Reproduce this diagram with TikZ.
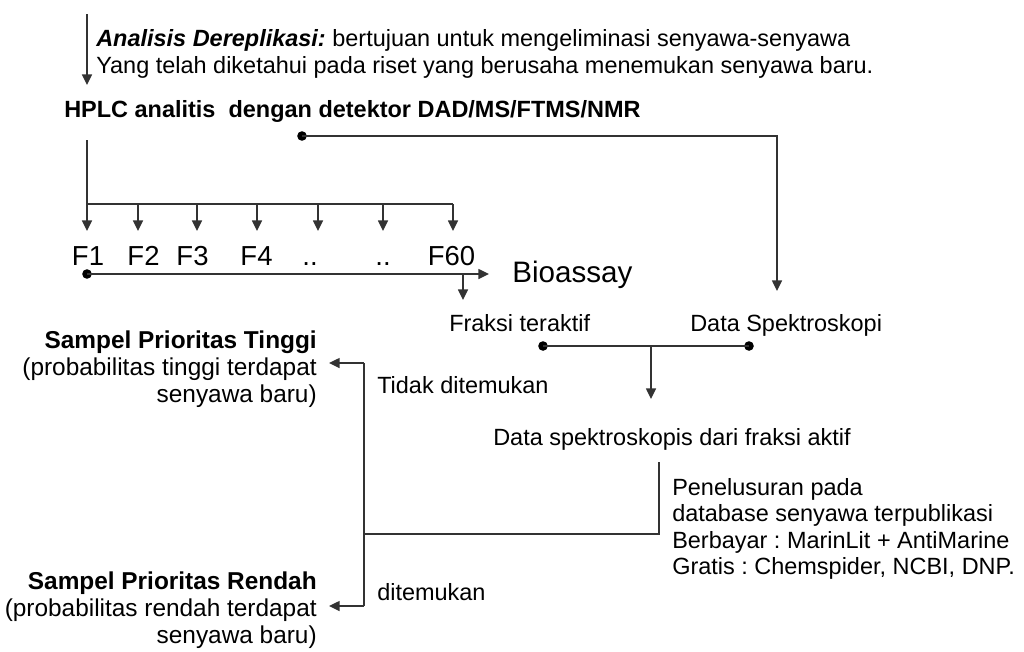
\documentclass[tikz,border=0pt]{standalone}
\usepackage{fontspec}
\setmainfont{Liberation Sans}
\usetikzlibrary{arrows.meta}
\frenchspacing
\begin{document}
\begin{tikzpicture}[x=0.75pt,y=-0.75pt,
  ln/.style={draw=black!80,line width=1.1pt},
  arr/.style={ln,-{Triangle[length=8pt,width=7.5pt]}},
  dot/.style={fill=black,draw=none},
  txt/.style={inner sep=0pt,font=\fontsize{17.6}{21}\selectfont},
  btxt/.style={txt,font=\fontsize{17.6}{21}\selectfont\bfseries},
  ltxt/.style={inner sep=0pt,anchor=base east,font=\fontsize{18.3}{22}\selectfont},
  lbtxt/.style={ltxt,font=\fontsize{18.3}{22}\selectfont\bfseries},
  flab/.style={inner sep=0pt,anchor=base,font=\fontsize{20.6}{24}\selectfont}]
\path[use as bounding box] (0,0) rectangle (1024,651);

% top explanation
\coordinate (a0) at (87,14);
\coordinate (a1) at (87,85);
\draw[arr] (a0) -- (a1);
\node[txt,anchor=base west] (l1) at (96,46) {\textbf{\textit{Analisis Dereplikasi:}} bertujuan untuk mengeliminasi senyawa-senyawa};
\node[txt,anchor=base west] (l2) at (96,73) {Yang telah diketahui pada riset yang berusaha menemukan senyawa baru.};

% HPLC
\node[btxt,anchor=base west] (hplc) at (64,117) {HPLC analitis \ dengan detektor DAD/MS/FTMS/NMR};

% fractions bus
\coordinate (hs) at (87,140);
\coordinate (b1) at (87,204);
\coordinate (b7) at (453,204);
\draw[ln] (hs) -- (b1) -- (b7);
\foreach \n/\x in {1/87,2/138,3/197,4/257,5/318,6/383,7/453}{
  \coordinate (s\n) at (\x,204);
  \coordinate (t\n) at (\x,231);
  \draw[arr] (s\n) -- (t\n);
}
\node[flab] (f1) at (88,265) {F1};
\node[flab] (f2) at (143.5,265) {F2};
\node[flab] (f3) at (192.5,265) {F3};
\node[flab] (f4) at (256.5,265) {F4};
\node[flab] (f5) at (310,265) {..};
\node[flab] (f6) at (383,265) {..};
\node[flab] (f60) at (451.5,265) {F60};

% bioassay
\node[inner sep=0pt,anchor=base west,font=\fontsize{22.2}{26}\selectfont] (bio) at (512,282) {Bioassay};
\coordinate (d0) at (87,274);
\coordinate (d1) at (489,274);
\fill[dot] (d0) circle (3.6pt);
\draw[arr] (d0) -- (d1);
\coordinate (fb) at (463,274);
\coordinate (fe) at (463,300);
\node[txt,anchor=base west] (frak) at (449,331) {Fraksi teraktif};
\draw[arr] (fb) -- (fe);

% spectroscopy
\coordinate (hd) at (302,136);
\coordinate (hc) at (777,136);
\coordinate (he) at (777,291);
\fill[dot] (hd) circle (3.6pt);
\node[txt,anchor=base west] (spek) at (690,331) {Data Spektroskopi};
\draw[arr] (hd) -- (hc) -- (he);

% merge
\coordinate (m1) at (543,346);
\coordinate (m2) at (749,346);
\coordinate (mc) at (651,346);
\coordinate (me) at (651,399);
\fill[dot] (m1) circle (3.6pt);
\fill[dot] (m2) circle (3.6pt);
\draw[ln] (m1) -- (m2);
\node[txt,anchor=base west] (dsa) at (493,445) {Data spektroskopis dari fraksi aktif};
\draw[arr] (mc) -- (me);

% database search
\node[txt,anchor=base west] (pen) at (672,495) {Penelusuran pada};
\node[txt,anchor=base west] (db) at (672,521.5) {database senyawa terpublikasi};
\node[txt,anchor=base west] (bb) at (672,548) {Berbayar : MarinLit + AntiMarine};
\node[txt,anchor=base west] (gr) at (672,574.5) {Gratis : Chemspider, NCBI, DNP.};
\coordinate (v0) at (659,462);
\coordinate (v1) at (659,534);
\coordinate (v2) at (364,534);
\draw[ln] (v0) -- (v1) -- (v2);

% decision bracket
\coordinate (kt) at (364,363);
\coordinate (kb) at (364,606);
\coordinate (ktt) at (329,363);
\coordinate (kbt) at (329,606);
\draw[ln] (kt) -- (kb);
\draw[arr] (kt) -- (ktt);
\draw[arr] (kb) -- (kbt);
\node[txt,anchor=base west] (tdk) at (377,393) {Tidak ditemukan};
\node[txt,anchor=base west] (dit) at (377,600) {ditemukan};

% samples
\node[lbtxt] (st1) at (317,348) {Sampel Prioritas Tinggi};
\node[ltxt] (st2) at (317,375) {(probabilitas tinggi terdapat};
\node[ltxt] (st3) at (317,402) {senyawa baru)};
\node[lbtxt] (sr1) at (317,589) {Sampel Prioritas Rendah};
\node[ltxt] (sr2) at (317,616) {(probabilitas rendah terdapat};
\node[ltxt] (sr3) at (317,643) {senyawa baru)};
\end{tikzpicture}
\end{document}
